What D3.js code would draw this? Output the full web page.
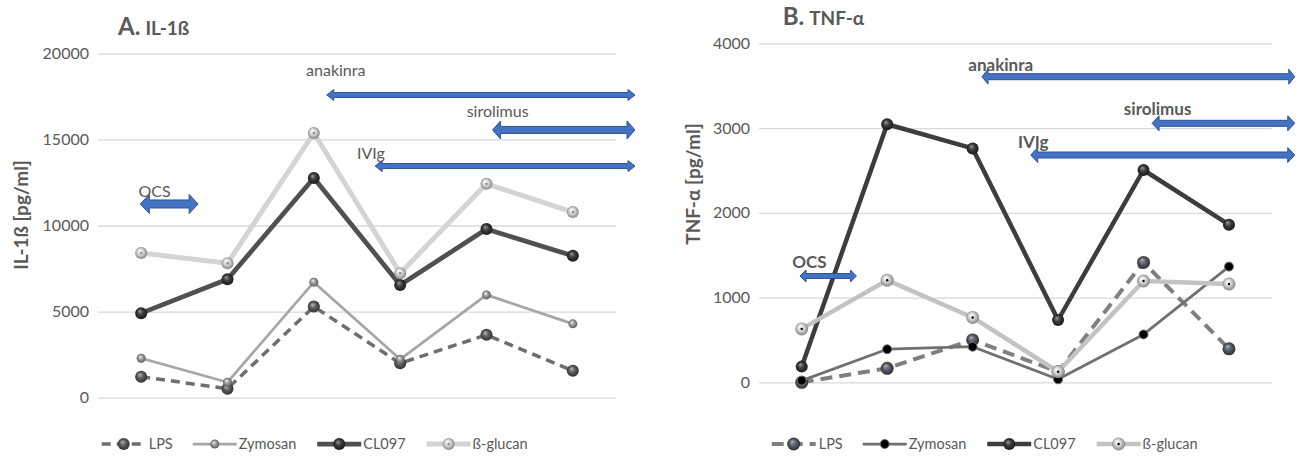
<!DOCTYPE html>
<html>
<head>
<meta charset="utf-8">
<script src="https://cdn.jsdelivr.net/npm/d3@7"></script>
<style>
  body { margin: 0; background: #fff; }
  text { font-family: Lato, "Noto Sans", sans-serif; fill: #595959; }
</style>
</head>
<body>
<svg id="chart" width="1298" height="456"></svg>
<script>
// sampling points (no axis labels shown in the figure)
const timepoints = ['t1', 't2', 't3', 't4', 't5', 't6'];
const seriesNames = ['LPS', 'Zymosan', 'CL097', 'ß-glucan'];

// IL-1ß [pg/ml]
const il1bLPS      = [1220, 520, 5290, 2000, 3650, 1570];
const il1bZymosan  = [2290, 900, 6710, 2230, 5970, 4290];
const il1bCL097    = [4910, 6880, 12760, 6550, 9790, 8240];
const il1bGlucan   = [8400, 7810, 15370, 7230, 12420, 10780];
const il1bTicks    = [0, 5000, 10000, 15000, 20000];

// TNF-α [pg/ml]
const tnfLPS       = [0, 165, 500, 125, 1415, 395];
const tnfZymosan   = [20, 390, 420, 35, 565, 1365];
const tnfCL097     = [185, 3045, 2760, 735, 2505, 1860];
const tnfGlucan    = [630, 1205, 765, 125, 1195, 1160];
const tnfTicks     = [0, 1000, 2000, 3000, 4000];

// therapies: [name, from, to (timepoint units), level, label x, label level]
const il1bTherapies = [
    ['anakinra', 2.15, 5.72, 17580, 1.91, 19020],
    ['sirolimus', 4.07, 5.72, 15550, 3.77, 16610],
    ['IVIg', 2.71, 5.72, 13450, 2.50, 14210],
    ['OCS', -0.01, 0.66, 11250, -0.03, 11960]
];
const tnfTherapies = [
    ['anakinra', 2.11, 5.77, 3606, 1.95, 3744],
    ['sirolimus', 4.10, 5.77, 3056, 3.77, 3221],
    ['IVIg', 2.68, 5.77, 2682, 2.53, 2839],
    ['OCS', -0.02, 0.64, 1254, -0.11, 1423]
];

const svg = d3.select('#chart');
const defs = svg.append('defs');

// shaded spheres used as markers
function sphere(id, hi, mid, lo) {
    const g = defs.append('radialGradient').attr('id', id)
        .attr('cx', '50%').attr('cy', '50%').attr('r', '55%')
        .attr('fx', '38%').attr('fy', '32%');
    g.append('stop').attr('offset', '0%').attr('stop-color', hi);
    g.append('stop').attr('offset', '45%').attr('stop-color', mid);
    g.append('stop').attr('offset', '100%').attr('stop-color', lo);
}
sphere('sphDark', '#9a9a9a', '#3c3c3c', '#151515');
sphere('sphGray', '#b8b8b8', '#5e5e5e', '#2a2a2a');
sphere('sphMid', '#f2f2f2', '#9c9c9c', '#555555');
sphere('sphLight', '#ffffff', '#d6d6d6', '#7a7a7a');

const panels = [
    {
        title: 'A.', sub: 'IL-1ß', titleX: 118, titleY: 35,
        yLabel: 'IL-1ß [pg/ml]', yLabelX: 21, yLabelY: 215,
        x0: 98, x1: 616, yTop: 53.3, yBottom: 397.7, max: 20000, ticks: il1bTicks,
        series: [il1bLPS, il1bZymosan, il1bCL097, il1bGlucan],
        styles: [
            { stroke: '#6e6e6e', width: 3.5, dash: '9,6', fill: 'sphGray', r: 6 },
            { stroke: '#a6a6a6', width: 2.75, fill: 'sphMid', r: 4.5 },
            { stroke: '#505050', width: 4.75, fill: 'sphDark', r: 6 },
            { stroke: '#d4d4d4', width: 5, fill: 'sphLight', r: 6, dot: '#888' }
        ],
        therapies: il1bTherapies, bold: false, noteSize: 16,
        arrow: { anakinra: [2.5, 5.5, 7], sirolimus: [3.5, 9, 8], IVIg: [2.5, 5.5, 7], OCS: [4, 9.5, 9] },
        legendX: 101.7, legendY: 444
    },
    {
        title: 'B.', sub: 'TNF-α', titleX: 782.7, titleY: 25,
        yLabel: 'TNF-α [pg/ml]', yLabelX: 693, yLabelY: 184,
        x0: 759, x1: 1271.7, yTop: 43.3, yBottom: 382.3, max: 4000, ticks: tnfTicks,
        series: [tnfLPS, tnfZymosan, tnfCL097, tnfGlucan],
        styles: [
            { stroke: '#7f7f7f', width: 4, dash: '12,7', fill: 'sphGray', r: 6.5, dot: '#4472c4' },
            { stroke: '#707070', width: 2.75, fill: '#000', r: 4.5, ring: '#777' },
            { stroke: '#3d3d3d', width: 4.5, fill: 'sphDark', r: 6 },
            { stroke: '#c3c3c3', width: 4.5, fill: 'sphLight', r: 6.5, dot: '#000' }
        ],
        therapies: tnfTherapies, bold: true, noteSize: 17,
        arrow: { anakinra: [3, 7.5, 6], sirolimus: [3, 7.5, 7], IVIg: [3, 7.5, 7], OCS: [2.5, 6, 6] },
        legendX: 771.7, legendY: 444
    }
];

function fillOf(s) {
    return s.fill.startsWith('#') ? s.fill : `url(#${s.fill})`;
}

function drawMarker(g, cx, cy, s) {
    g.append('circle').attr('cx', cx).attr('cy', cy).attr('r', s.r)
        .attr('fill', fillOf(s))
        .attr('stroke', s.ring || 'none').attr('stroke-width', s.ring ? 1 : 0);
    if (s.dot) {
        g.append('circle').attr('cx', cx).attr('cy', cy).attr('r', 1.2).attr('fill', s.dot);
    }
}

function arrowPath(xa, xb, y, b, h, L) {
    return `M${xa},${y} L${xa + L},${y - h} L${xa + L},${y - b} L${xb - L},${y - b} L${xb - L},${y - h}` +
        ` L${xb},${y} L${xb - L},${y + h} L${xb - L},${y + b} L${xa + L},${y + b} L${xa + L},${y + h} Z`;
}

panels.forEach(p => {
    const g = svg.append('g');
    const x = d3.scaleLinear().domain([-0.5, timepoints.length - 0.5]).range([p.x0, p.x1]);
    const y = d3.scaleLinear().domain([0, p.max]).range([p.yBottom, p.yTop]);

    // gridlines + tick labels
    const axis = d3.axisLeft(y).tickValues(p.ticks).tickSize(-(p.x1 - p.x0)).tickPadding(9).tickFormat(d3.format('d'));
    const ax = g.append('g').attr('transform', `translate(${p.x0},0)`).call(axis);
    ax.select('.domain').remove();
    ax.selectAll('.tick line').attr('stroke', '#d9d9d9').attr('stroke-width', 1.3);
    ax.selectAll('.tick text').attr('font-size', 16).attr('fill', '#595959')
        .style('font-family', 'Lato, sans-serif');

    // title
    const t = g.append('text').attr('x', p.titleX).attr('y', p.titleY).attr('font-weight', 700);
    t.append('tspan').attr('font-size', 24).text(p.title);
    t.append('tspan').attr('font-size', 19).attr('dx', 5).text(p.sub);

    // y-axis label
    g.append('text')
        .attr('transform', `translate(${p.yLabelX},${p.yLabelY}) rotate(-90)`)
        .attr('text-anchor', 'middle').attr('dy', '0.35em')
        .attr('font-size', 19).attr('font-weight', 700)
        .text(p.yLabel);

    // series
    const line = d3.line().x((d, i) => x(i)).y(d => y(d));
    p.series.forEach((vals, k) => {
        const s = p.styles[k];
        g.append('path').datum(vals)
            .attr('d', line)
            .attr('fill', 'none')
            .attr('stroke', s.stroke)
            .attr('stroke-width', s.width)
            .attr('stroke-dasharray', s.dash || null)
            .attr('stroke-linejoin', 'round');
        const mg = g.append('g');
        vals.forEach((v, i) => drawMarker(mg, x(i), y(v), s));
    });

    // therapy arrows
    p.therapies.forEach(([name, from, to, level, lx, ly]) => {
        const [b, h, L] = p.arrow[name];
        g.append('path')
            .attr('d', arrowPath(x(from), x(to), y(level), b, h, L))
            .attr('fill', '#4472c4')
            .attr('stroke', '#2f528f')
            .attr('stroke-width', 1);
        g.append('text')
            .attr('x', x(lx)).attr('y', y(ly)).attr('dy', '0.35em')
            .attr('font-size', p.noteSize)
            .attr('font-weight', p.bold ? 700 : 400)
            .attr('fill', '#404040')
            .text(name);
    });

    // legend
    const lg = g.append('g').attr('transform', `translate(${p.legendX},${p.legendY})`);
    let cursor = 0;
    seriesNames.forEach((name, k) => {
        const s = p.styles[k];
        const item = lg.append('g').attr('transform', `translate(${cursor},0)`);
        item.append('line').attr('x1', 0).attr('x2', 44).attr('y1', 0).attr('y2', 0)
            .attr('stroke', s.stroke).attr('stroke-width', s.width)
            .attr('stroke-dasharray', s.dash || null);
        drawMarker(item, 22, 0, s);
        const tx = item.append('text').attr('x', k === 0 ? 47 : 46).attr('dy', '0.35em')
            .attr('font-size', 14.5).text(name);
        cursor += 46 + tx.node().getComputedTextLength() + 21;
    });
});
</script>
</body>
</html>
